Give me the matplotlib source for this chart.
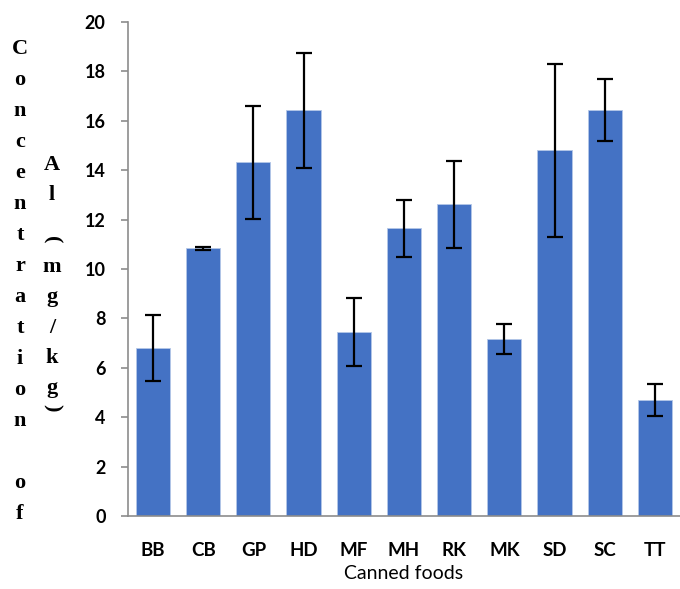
import matplotlib.pyplot as plt
import numpy as np

# canned food samples, Al concentration (mg/kg) with error bars
foods = ['BB', 'CB', 'GP', 'HD', 'MF', 'MH', 'RK', 'MK', 'SD', 'SC', 'TT']
conc = [6.8, 10.83, 14.32, 16.43, 7.46, 11.64, 12.62, 7.18, 14.8, 16.43, 4.7]
err = [1.33, 0.05, 2.3, 2.33, 1.38, 1.17, 1.75, 0.61, 3.52, 1.26, 0.65]
yticks = [0, 2, 4, 6, 8, 10, 12, 14, 16, 18, 20]

fig = plt.figure(figsize=(6.8, 5.89), dpi=100)
ax = fig.add_axes([0.188, 0.124, 0.812, 0.8386])

x = np.arange(len(foods))
ax.bar(x, conc, width=0.68, color='#4472C4', edgecolor='#b4c7e7', linewidth=0.6,
       yerr=err, capsize=6, error_kw=dict(ecolor='black', elinewidth=1.6, capthick=1.6))

ax.set_xlim(-0.5, len(foods) - 0.5)
ax.set_ylim(0, 20)
ax.set_yticks(yticks)
ax.set_xticks(x)
ax.set_xticklabels(foods)

for s in ['top', 'right']:
    ax.spines[s].set_visible(False)
for s in ['left', 'bottom']:
    ax.spines[s].set_color('#8c8c8c')
    ax.spines[s].set_linewidth(1.2)

ax.tick_params(axis='y', length=5, width=1.2, color='#8c8c8c', pad=11, labelsize=13)
ax.tick_params(axis='x', length=0, pad=19, labelsize=13.5)
for lab in ax.get_xticklabels() + ax.get_yticklabels():
    lab.set_fontfamily('Lato')
    lab.set_fontweight('bold')

ax.set_xlabel('Canned foods', fontsize=14, family='Lato', labelpad=4)

# stacked y label, two columns like the original
col1 = 'Concentration of'
y0, step = 1 - 49 / 589, 31 / 589
for i, ch in enumerate(col1):
    fig.text(20 / 680, y0 - i * step, ch, ha='center', va='center',
             family='Liberation Serif', weight='bold', fontsize=16)

col2 = ['A', 'l', '(', 'm', 'g', '/', 'k', 'g', ')']
ys = [165, 195, 240, 267, 297, 328, 358, 388, 408]
for ch, yy in zip(col2, ys):
    rot = -90 if ch in '()' else 0
    fig.text(52 / 680, 1 - yy / 589, ch, ha='center', va='center', rotation=rot,
             family='Liberation Serif', weight='bold', fontsize=16)

fig.savefig('out.png', dpi=100)
